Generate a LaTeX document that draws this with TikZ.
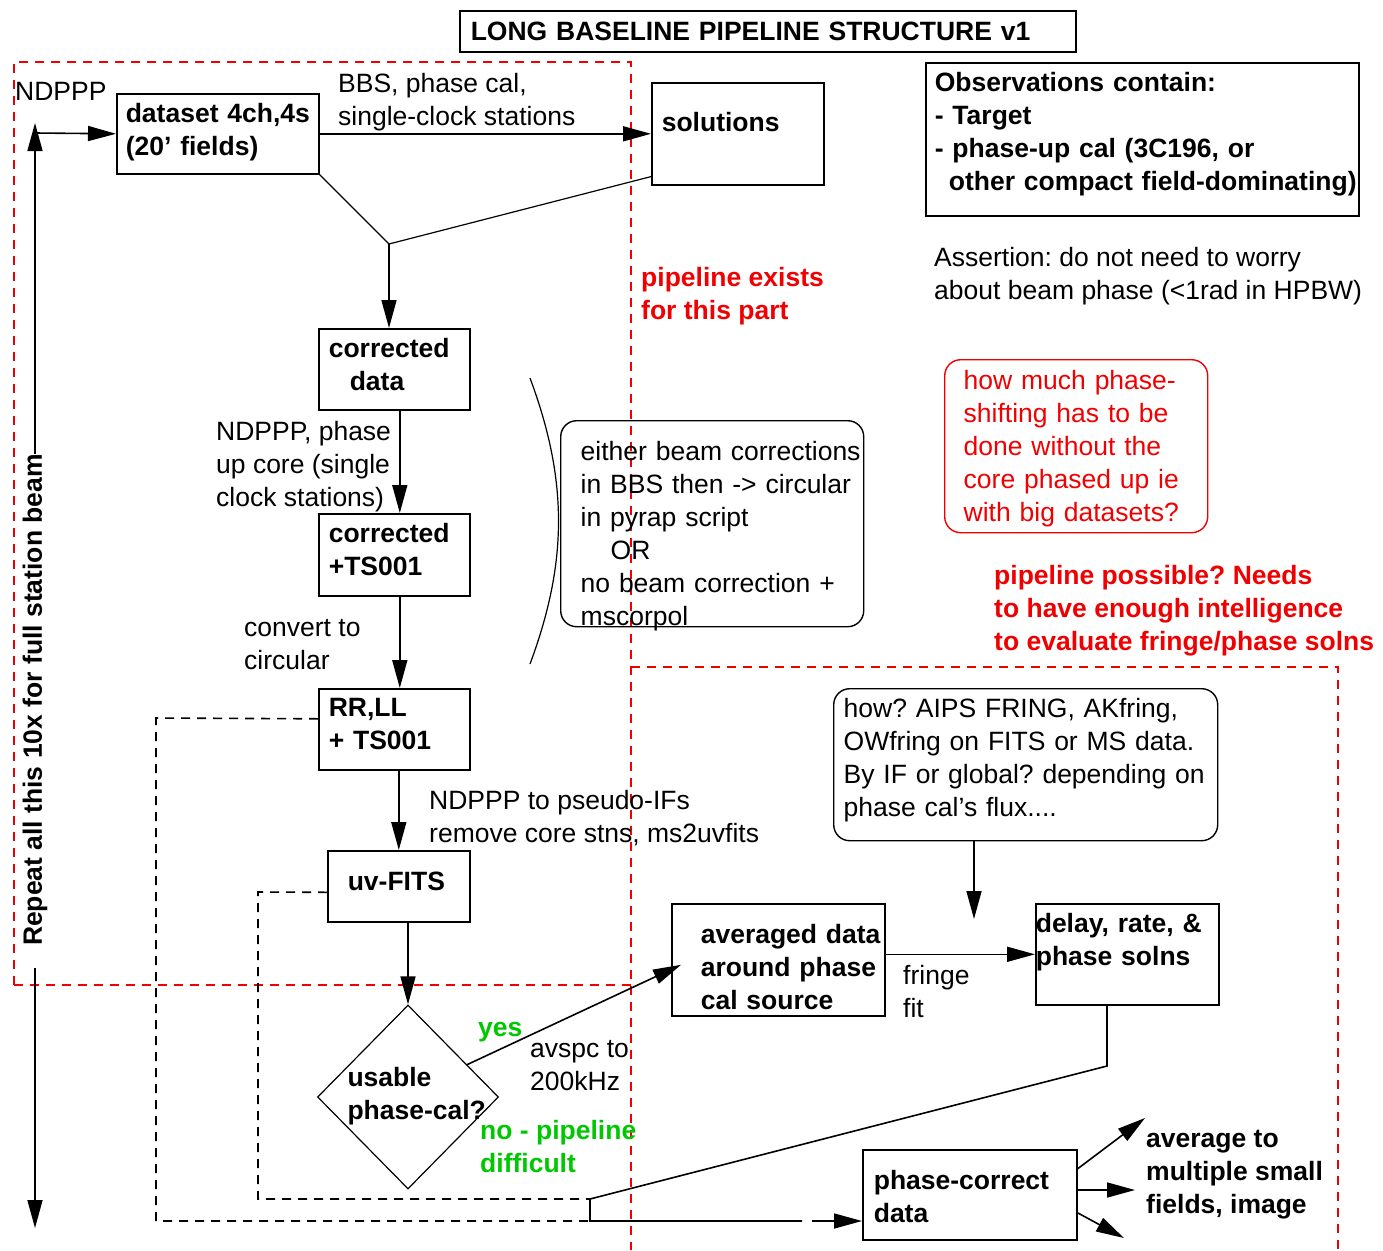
\documentclass[tikz,border=0pt]{standalone}
\usepackage{fontspec}
\setmainfont{Liberation Sans}
\usetikzlibrary{shapes.geometric,arrows.meta,calc}
\definecolor{xred}{RGB}{240,0,0}
\definecolor{xgreen}{RGB}{0,200,0}
\newcommand\fsz{\fontsize{26.5pt}{33pt}\selectfont\frenchspacing}
\newcommand\lns[1]{\begin{tabular}[t]{@{}l@{}}#1\end{tabular}}
\begin{document}
\begin{tikzpicture}[x=1pt,y=-1pt,
  reg/.style={font=\fsz},
  bld/.style={font=\fsz\bfseries},
  box/.style={draw, line width=1.6pt, inner ysep=0pt, anchor=north west, align=left, text height=19pt},
  dims/.style n args={4}{minimum width=#1, minimum height=#2, inner xsep=#3, text width=#1-2*#3, text depth=#4},
  rbox/.style={box, rounded corners=16pt},
  txt/.style={inner sep=0pt, anchor=base west},
  arr/.style={-{Triangle[length=28pt,width=15pt]}, line width=1.6pt},
  ln/.style={line width=1.6pt},
  thinln/.style={line width=1.2pt},
  dsh/.style={line width=1.6pt, dash pattern=on 9pt off 7pt},
  rdash/.style={line width=1.6pt, xred, dash pattern=on 9pt off 7pt}]
\fill[white] (0,0) rectangle (1383,1250);
\useasboundingbox (0,0) rectangle (1383,1250);

% red dashed regions
\draw[rdash] (14,985) -- (14,62) -- (631,62) -- (631,1250);
\draw[rdash] (14,985) -- (631,985);
\draw[rdash] (631,667) -- (1338,667) -- (1338,1250);

% title and notes
\node[box, bld, dims={616}{41}{11}{1}] (title) at (459,10) {\lns{LONG BASELINE PIPELINE STRUCTURE v1}};
\node[box, bld, dims={433}{153}{9}{114}] (obs) at (925,62)
  {\lns{Observations contain:\\- Target\\- phase-up cal (3C196, or\\\hspace*{14pt}other compact field-dominating)}};
\node[txt, reg] (assert) at (934,266) {\lns{Assertion: do not need to worry\\about beam phase (<1rad in HPBW)}};
\node[rbox, reg, draw=xred, text=xred, line width=1.4pt, dims={263}{173}{19}{133}] (howmuch) at (944,359)
  {\lns{how much phase-\\shifting has to be\\done without the\\core phased up ie\\with big datasets?}};
\node[txt, bld, text=xred] (exists) at (641,286) {\lns{pipeline exists\\for this part}};
\node[txt, bld, text=xred] (possible) at (994,584) {\lns{pipeline possible? Needs\\to have enough intelligence\\to evaluate fringe/phase solns}};

% main chain
\node[txt, reg] (ndppp) at (15,100) {NDPPP};
\node[box, bld, dims={202}{80}{9}{41}] (ds) at (116,93) {\lns{dataset 4ch,4s\\(20' fields)}};
\node[box, bld, dims={172}{102}{10}{23}] (sol) at (651,82) {\lns{solutions}};
\node[txt, reg] (bbs) at (338,92) {\lns{BBS, phase cal,\\single-clock stations}};
\node[box, bld, dims={151}{81}{10}{42}] (cd) at (318,328) {\lns{corrected\\\hspace*{21pt}data}};
\node[box, bld, dims={151}{82}{10}{43}] (ct) at (318,513) {\lns{corrected\\+TS001}};
\node[box, bld, dims={151}{81}{10}{44}] (rr) at (318,688) {\lns{RR,LL\\+ TS001}};
\node[box, bld, dims={142}{71}{20}{10}] (uv) at (327,850) {\lns{uv-FITS}};
\node[txt, reg] (ndl1) at (216,440) {\lns{NDPPP, phase\\up core (single\\clock stations)}};
\node[txt, reg] (conv) at (244,636) {\lns{convert to\\circular}};
\node[txt, reg] (pseudo) at (429,809) {\lns{NDPPP to pseudo-IFs\\remove core stns, ms2uvfits}};
\node[draw, diamond, line width=1.2pt, bld, inner sep=0pt, minimum width=181pt, minimum height=184pt,
      align=left, text width=121pt, text height=10pt, text depth=31pt] (dia) at (408,1097) {\lns{usable\\phase-cal?}};
\node[txt, bld, text=xgreen] (yes) at (478,1036) {yes};
\node[txt, reg] (avspc) at (530,1057) {\lns{avspc to\\200kHz}};
\node[txt, bld, text=xgreen] (nopipe) at (480,1139) {\lns{no - pipeline\\difficult}};

% beam-correction note
\node[rbox, reg, line width=1.4pt, dims={303}{206}{20}{145}] (either) at (560,420)
  {\lns{either beam corrections\\in BBS then -> circular\\in pyrap script\\\hspace*{30pt}OR\\no beam correction +\\mscorpol}};
\coordinate (br1) at (530,378);
\coordinate (br2) at (530,664);
\draw[thinln] (br1) .. controls (568,480) and (568,562) .. (br2);

% fringe fitting part
\node[rbox, reg, line width=1.4pt, dims={384}{152}{10}{113}] (how) at (833,688)
  {\lns{how? AIPS FRING, AKfring,\\OWfring on FITS or MS data.\\By IF or global? depending on\\phase cal's flux....}};
\node[box, bld, dims={213}{112}{29}{52}] (avg) at (671,903) {\lns{averaged data\\around phase\\cal source}};
\node[box, bld, dims={183}{101}{0}{63}] (dl) at (1035,903) {\lns{delay, rate, \&\\phase solns}};
\node[txt, reg] (fringe) at (903,984) {\lns{fringe\\fit}};
\node[box, bld, dims={214}{90}{11}{29}] (pc) at (862,1149) {\lns{phase-correct\\data}};
\node[txt, bld] (avto) at (1146,1147) {\lns{average to\\multiple small\\fields, image}};

% repeat loop
\node[bld, rotate=90, inner sep=0pt] (rep) at (35,700) {Repeat all this 10x for full station beam};
\coordinate (lTop) at (35,123);
\coordinate (lCorner) at (35,133);
\coordinate (lBot) at (35,1228);
\draw[arr] (rep.east) -- (rep.east |- lTop);
\draw[arr] (lCorner) -- (ds.west);
\draw[arr, shorten <=22pt] (rep.west) -- (lBot);

% connectors
\coordinate (yj) at (389,244);
\draw[arr] (ds.east) -- (sol.west);
\draw[thinln] (ds.south east) -- (yj) -- ([yshift=9pt]sol.south west);
\draw[arr] (yj) -- (yj |- cd.north);
\draw[arr] ([xshift=5.5pt]cd.south) -- ([xshift=5.5pt]ct.north);
\draw[arr] ([xshift=5.5pt]ct.south) -- ([xshift=5.5pt]rr.north);
\draw[arr] (uv.north |- rr.south) -- (uv.north);
\draw[arr] (dia.north |- uv.south) -- (dia.north);
\draw[arr] ($(dia.north east)!0.3!(dia.east)$) -- ([xshift=10pt,yshift=-5pt]avg.west);
\draw[arr] (avg.east |- dl.west) -- (dl.west);
\coordinate (howT) at (974,919);
\draw[arr] (howT |- how.south) -- (howT);

\coordinate (dBend) at (1107,1066);
\coordinate (jA) at (590,1199);
\coordinate (jB) at (590,1221);
\coordinate (gap1) at (802,1221);
\coordinate (gap2) at (812,1221);
\draw[ln] (dl.south -| dBend) -- (dBend) -- (jA) -- (jB) -- (gap1);
\draw[arr] (gap2) -- (pc.west |- jB);

\coordinate (dL1) at (156,718);
\coordinate (dL2) at (156,1221);
\draw[dsh] ([yshift=10.5pt]rr.west) -- (dL1) -- (dL2) -- (jB);
\coordinate (dU1) at (258,892);
\coordinate (dU2) at (258,1199);
\draw[dsh] ([yshift=-6pt]uv.west) -- (dU1) -- (dU2) -- (jA);

\coordinate (o1) at (1145,1118);
\coordinate (o2) at (1135,1190);
\coordinate (o3) at (1124,1238);
\draw[arr] ([yshift=26pt]pc.east) -- (o1);
\draw[arr] (pc.east |- o2) -- (o2);
\draw[arr] ([yshift=-18pt]pc.east) -- (o3);
\end{tikzpicture}
\end{document}
